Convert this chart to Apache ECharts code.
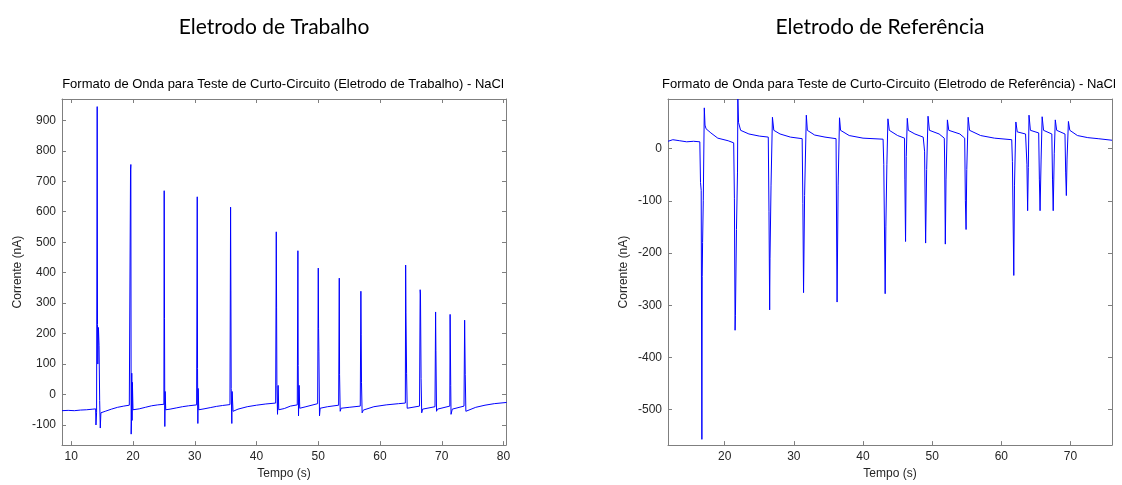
<!DOCTYPE html>
<html>
<head>
<meta charset="utf-8">
<script src="https://cdn.jsdelivr.net/npm/echarts@6/dist/echarts.min.js"></script>
<style>
  html, body { margin: 0; padding: 0; background: #fff; }
  #chart { width: 1122px; height: 485px; }
</style>
</head>
<body>
<div id="chart"></div>
<script>
// [tempo (s), corrente (nA)]
var trabalho = [
  [8.5, -53], [9.5, -52], [10.5, -53], [11.5, -51], [12.5, -50], [13.5, -48], [13.95, -47],
  [14.0, -100], [14.1, -60], [14.2, 945], [14.25, 230], [14.3, 100], [14.4, 220], [14.5, 160],
  [14.6, -20], [14.7, -110], [14.8, -60], [15.5, -55], [16.5, -48], [17.5, -42], [18.5, -38],
  [19.4, -35], [19.5, -40], [19.6, 740], [19.65, 755], [19.7, -130], [19.75, -90], [19.8, 70],
  [19.85, -85], [19.9, 40], [20.0, -50], [21, -47], [22, -42], [23, -37], [24, -34],
  [25.0, -32], [25.05, 669], [25.1, 250], [25.15, -105], [25.2, 10], [25.3, -50], [26, -48],
  [27, -44], [28, -40], [29, -37], [30.3, -34], [30.4, 649], [30.45, 85], [30.5, -95],
  [30.55, 20], [30.65, -50], [31.5, -47], [32.5, -43], [33.5, -39], [34.5, -36], [35.7, -33],
  [35.8, 615], [35.85, 340], [35.9, 20], [36.0, -95], [36.05, 10], [36.2, -55], [37, -48],
  [38.5, -40], [40, -35], [41.5, -31], [43.1, -28], [43.2, 534], [43.25, 287], [43.3, 30],
  [43.4, -65], [43.5, 30], [43.6, -50], [44.5, -46], [45.5, -38], [46.6, -34], [46.7, 472],
  [46.75, 95], [46.8, -70], [46.9, 30], [47.0, -45], [48, -40], [49.9, -30], [50.0, 415],
  [50.05, 216], [50.1, 140], [50.2, -70], [50.3, -45], [51.5, -40], [53.3, -35], [53.4, 382],
  [53.45, 65], [53.55, -55], [53.7, -45], [55, -42], [56.8, -38], [56.9, 339], [56.95, 198],
  [57.0, 40], [57.1, -60], [57.3, -51], [59, -40], [61, -34], [63, -30], [64.1, -28],
  [64.15, 425], [64.2, 268], [64.3, 70], [64.4, -45], [64.6, -40], [66.4, -38], [66.5, 344],
  [66.55, 330], [66.65, 52], [66.75, -60], [66.9, -48], [68.9, -40], [69.0, 271], [69.05, 144],
  [69.15, -55], [69.3, -48], [71.3, -38], [71.35, 263], [71.45, 30], [71.5, -65], [71.7, -48],
  [73.6, -38], [73.7, 244], [73.8, 65], [73.9, -55], [74.1, -50], [75.5, -42], [77, -35],
  [78.5, -30], [80.5, -26]
];

var referencia = [
  [11.8, 14], [12.5, 17], [13.5, 15], [14.5, 13], [15.5, 14], [16.4, 13], [16.5, -65],
  [16.6, -80], [16.7, -557], [16.75, -245], [16.8, -180], [16.9, -100], [17.05, 78],
  [17.15, 45], [17.3, 38], [18, 30], [19, 20], [20.5, 15], [21.3, 11], [21.4, -95],
  [21.5, -348], [21.55, -320], [21.7, -155], [21.85, -45], [21.9, 95], [22.0, 50], [22.3, 35],
  [23.5, 28], [25, 24], [26.3, 22], [26.4, -120], [26.5, -309], [26.55, -210], [26.7, -70],
  [26.9, 60], [27.1, 35], [28, 28], [29.5, 22], [31.2, 19], [31.3, -105], [31.4, -276],
  [31.55, -90], [31.8, 64], [31.95, 35], [33, 26], [34.5, 22], [36.1, 19], [36.2, -200],
  [36.25, -294], [36.4, -70], [36.6, 59], [36.75, 35], [38, 25], [40, 20], [42.9, 18],
  [43.0, -30], [43.2, -278], [43.3, -150], [43.45, -30], [43.6, 57], [43.8, 35], [45, 25],
  [46.0, 20], [46.05, -60], [46.15, -178], [46.25, -15], [46.4, 58], [46.55, 35], [47.5, 28],
  [48.7, 22], [48.9, -5], [49.05, -181], [49.2, -40], [49.4, 62], [49.6, 35], [51, 28],
  [51.75, 20], [51.8, -20], [51.9, -183], [52.0, -60], [52.2, 55], [52.4, 35], [54, 28],
  [54.7, 20], [54.8, -100], [54.9, -155], [55.0, -40], [55.2, 60], [55.4, 35], [57, 25],
  [59, 20], [61.5, 17], [61.6, -25], [61.8, -243], [61.9, -70], [62.1, 51], [62.3, 32],
  [63.5, 28], [63.7, -30], [63.8, -119], [63.9, -36], [64.0, 64], [64.2, 35], [65.4, 30],
  [65.5, -60], [65.6, -119], [65.75, -20], [65.9, 61], [66.1, 35], [67.3, 28], [67.4, -60],
  [67.5, -119], [67.65, -10], [67.8, 55], [68.0, 35], [69.2, 28], [69.3, -45], [69.4, -90],
  [69.5, -20], [69.7, 52], [69.9, 35], [71, 25], [72.5, 21], [74, 19], [76, 16]
];

// marcas dos eixos
var trabalhoXTicks = [10, 20, 30, 40, 50, 60, 70, 80];
var trabalhoYTicks = [-100, 0, 100, 200, 300, 400, 500, 600, 700, 800, 900];
var referenciaXTicks = [20, 30, 40, 50, 60, 70];
var referenciaYTicks = [-500, -400, -300, -200, -100, 0];

var chart = echarts.init(document.getElementById('chart'));

var axisColor = '#7f7f7f';
var labelColor = '#262626';
var font = 'Liberation Sans, Arial, sans-serif';

function eixoX (grid, min, max, ticks, top) {
  return {
    type: 'value',
    gridIndex: grid,
    position: top ? 'top' : 'bottom',
    min: min,
    max: max,
    name: top ? '' : 'Tempo (s)',
    nameLocation: 'middle',
    nameGap: 19,
    nameTextStyle: { color: labelColor, fontSize: 12, fontFamily: font },
    axisLine: { show: true, onZero: false, lineStyle: { color: axisColor, width: 1 } },
    axisTick: { show: true, inside: true, length: 4, customValues: ticks, lineStyle: { color: axisColor } },
    axisLabel: { show: !top, customValues: ticks, color: labelColor, fontSize: 12, fontFamily: font, margin: 6 },
    splitLine: { show: false }
  };
}

function eixoY (grid, min, max, ticks, right, gap) {
  return {
    type: 'value',
    gridIndex: grid,
    position: right ? 'right' : 'left',
    min: min,
    max: max,
    name: right ? '' : 'Corrente (nA)',
    nameLocation: 'middle',
    nameGap: gap,
    nameTextStyle: { color: labelColor, fontSize: 12, fontFamily: font },
    axisLine: { show: true, onZero: false, lineStyle: { color: axisColor, width: 1 } },
    axisTick: { show: true, inside: true, length: 4, customValues: ticks, lineStyle: { color: axisColor } },
    axisLabel: { show: !right, customValues: ticks, color: labelColor, fontSize: 12, fontFamily: font, margin: 6 },
    splitLine: { show: false }
  };
}

var option = {
  backgroundColor: '#ffffff',
  animation: false,
  title: [
    { text: 'Eletrodo de Trabalho', left: 269, top: 12, textAlign: 'center',
      textStyle: { fontFamily: 'Lato, sans-serif', fontSize: 21, fontWeight: 'normal', color: '#000' } },
    { text: 'Eletrodo de Referência', left: 875, top: 12, textAlign: 'center',
      textStyle: { fontFamily: 'Lato, sans-serif', fontSize: 21, fontWeight: 'normal', color: '#000' } },
    { text: 'Formato de Onda para Teste de Curto-Circuito (Eletrodo de Trabalho) - NaCl', left: 278, top: 73, textAlign: 'center',
      textStyle: { fontFamily: font, fontSize: 13, fontWeight: 'normal', color: '#000' } },
    { text: 'Formato de Onda para Teste de Curto-Circuito (Eletrodo de Referência) - NaCl', left: 884, top: 73, textAlign: 'center',
      textStyle: { fontFamily: font, fontSize: 13, fontWeight: 'normal', color: '#000' } }
  ],
  grid: [
    { left: 62, top: 99, width: 444, height: 350, show: false },
    { left: 668, top: 99, width: 444, height: 350, show: false }
  ],
  xAxis: [
    eixoX(0, 8.5, 80.4, trabalhoXTicks, false),
    eixoX(0, 8.5, 80.4, trabalhoXTicks, true),
    eixoX(1, 11.8, 76, referenciaXTicks, false),
    eixoX(1, 11.8, 76, referenciaXTicks, true)
  ],
  yAxis: [
    eixoY(0, -166, 970, trabalhoYTicks, false, 38),
    eixoY(0, -166, 970, trabalhoYTicks, true, 0),
    eixoY(1, -568, 95, referenciaYTicks, false, 38),
    eixoY(1, -568, 95, referenciaYTicks, true, 0)
  ],
  series: [
    {
      type: 'line',
      xAxisIndex: 0,
      yAxisIndex: 0,
      data: trabalho,
      showSymbol: false,
      clip: true,
      lineStyle: { color: '#0000ff', width: 1 }
    },
    {
      type: 'line',
      xAxisIndex: 2,
      yAxisIndex: 2,
      data: referencia,
      showSymbol: false,
      clip: true,
      lineStyle: { color: '#0000ff', width: 1 }
    }
  ]
};

chart.setOption(option);
</script>
</body>
</html>
